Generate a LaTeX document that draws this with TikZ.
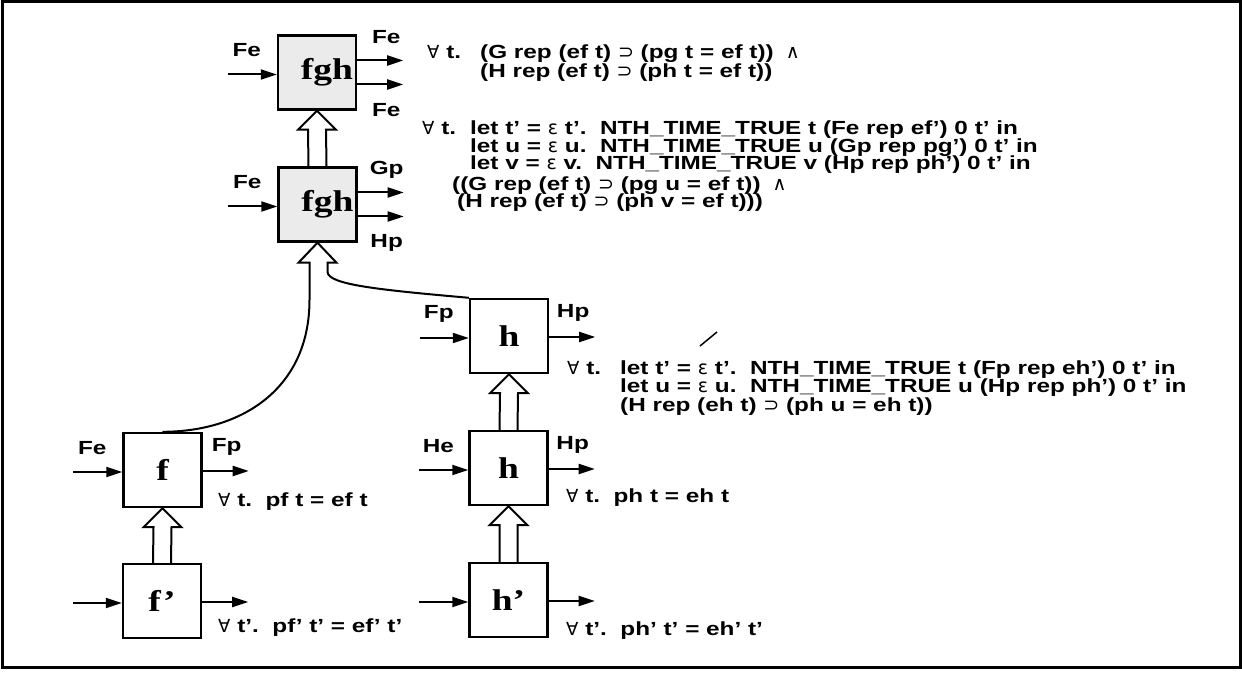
\documentclass[tikz,border=0pt]{standalone}
\usepackage{fontspec}
\newfontfamily\formfont[FakeStretch=1.28]{Liberation Sans}
\newfontfamily\blockfont[FakeStretch=1.25]{Liberation Serif}
\newfontfamily\symfont{DejaVu Sans}
\newcommand{\forallsym}{{\symfont\mdseries\fontsize{18}{18}\selectfont ∀}}
\newcommand{\impsym}{{\symfont\mdseries ⊃}}
\newcommand{\andsym}{{\symfont\mdseries ∧}}
\newcommand{\epssym}{{\symfont\mdseries ε}}
\usetikzlibrary{arrows.meta,calc}
\tikzset{
  blk/.style={draw,line width=2.4pt,minimum width=78pt,minimum height=74pt,inner sep=0pt,
    font=\blockfont\bfseries\fontsize{30}{30}\selectfont},
  sig/.style={line width=2pt,-{Triangle[length=16pt,width=10pt]}},
  hollow/.style={line width=2pt,line join=miter},
  lbl/.style={inner sep=0pt},
  formula/.style={anchor=base west,inner sep=0pt,text height=13pt,text depth=3.5pt}
}
\newcommand{\inport}[2]{%
  \coordinate (#1-src) at ($(#1.west)+(-49,-2)$);
  \draw[sig] (#1-src) -- (#1.west |- #1-src);
  \if\relax\detokenize{#2}\relax\else
    \node[lbl] (#1-inlbl) at ($(#1.west)+(-30,22)$) {#2};
  \fi
}
\newcommand{\outport}[2]{%
  \coordinate (#1-snk) at ($(#1.east)+(46,-1)$);
  \draw[sig] (#1.east |- #1-snk) -- (#1-snk);
  \if\relax\detokenize{#2}\relax\else
    \node[lbl] (#1-outlbl) at ($(#1.east)+(24,23)$) {#2};
  \fi
}
\newcommand{\twoports}[3]{%
  \coordinate (#1-snka) at ($(#1.east)+(46,12)$);
  \coordinate (#1-snkb) at ($(#1.east)+(46,-12)$);
  \draw[sig] (#1.east |- #1-snka) -- (#1-snka);
  \draw[sig] (#1.east |- #1-snkb) -- (#1-snkb);
  \node[lbl] (#1-outa) at ($(#1.east)+(29,35)$) {#2};
  \node[lbl] (#1-outb) at ($(#1.east)+(29,-38)$) {#3};
}
% #1 lower block, #2 upper block
\newcommand{\refine}[2]{%
  \draw[hollow] ($(#1.north)+(-9,0)$) -- ($(#2.south)+(-9,-19)$) -- ($(#2.south)+(-19,-19)$)
    -- (#2.south) -- ($(#2.south)+(19,-19)$) -- ($(#2.south)+(9,-19)$) -- ($(#1.north)+(9,0)$);
}

\begin{document}
\begin{tikzpicture}[x=1pt,y=1pt,font=\formfont\bfseries\fontsize{19}{19}\selectfont]
\path[use as bounding box] (0,0) rectangle (1242,672);
\draw[line width=3pt] (2,670) rectangle (1240,5);

% blocks
\node[blk,fill=black!8] (fghA) at (317,599.5) {\hspace*{20pt}fgh};
\node[blk,fill=black!8] (fghB) at (317.5,467.5) {\hspace*{20pt}fgh};
\node[blk] (hA) at (509,336) {h};
\node[blk] (hB) at (508.5,204) {h};
\node[blk] (hC) at (508.5,72) {h’};
\node[blk] (fA) at (162.5,202) {f};
\node[blk] (fB) at (162,71) {f’};

\inport{fghA}{Fe}
\twoports{fghA}{Fe}{Fe}
\inport{fghB}{Fe}
\twoports{fghB}{Gp}{Hp}
\inport{hA}{Fp}
\outport{hA}{Hp}
\inport{hB}{He}
\outport{hB}{Hp}
\inport{hC}{}
\outport{hC}{}
\inport{fA}{Fe}
\outport{fA}{Fp}
\inport{fB}{}
\outport{fB}{}

\refine{fghB}{fghA}
\refine{hB}{hA}
\refine{hC}{hB}
\refine{fB}{fA}

% split arrow into the lower fgh
\draw[hollow] (fA.north) .. controls ($(fA.north)+(78,0)$) and ($(fghB.south)+(-8,-147)$) .. ($(fghB.south)+(-8,-57)$)
  -- ($(fghB.south)+(-8,-20)$) -- ($(fghB.south)+(-19,-20)$) -- (fghB.south)
  -- ($(fghB.south)+(19,-20)$) -- ($(fghB.south)+(10,-20)$) -- ($(fghB.south)+(10,-29)$)
  .. controls ($(fghB.south)+(10,-42)$) and ($(hA.north west)+(-90,8)$) .. (hA.north west);

% formulas
\node[formula] (fa1) at (427,613) {\forallsym\ t.};
\node[formula] (fa2) at (480,613) {(G rep (ef t) \impsym\ (pg t = ef t))\hspace{12pt}\andsym};
\node[formula] (fa3) at (480,594) {(H rep (ef t) \impsym\ (ph t = ef t))};

\node[formula] (fb1) at (422,537) {\forallsym\ t.};
\node[formula] (fb2) at (470,537) {let t’ = \epssym\ t’.\ \ NTH\_TIME\_TRUE t (Fe rep ef’) 0 t’ in};
\node[formula] (fb3) at (470,519.5) {let u = \epssym\ u.\ \ NTH\_TIME\_TRUE u (Gp rep pg’) 0 t’ in};
\node[formula] (fb4) at (470,502) {let v = \epssym\ v.\ \ NTH\_TIME\_TRUE v (Hp rep ph’) 0 t’ in};
\node[formula] (fb5) at (452,481.5) {((G rep (ef t) \impsym\ (pg u = ef t))\hspace{12pt}\andsym};
\node[formula] (fb6) at (457,464) {(H rep (ef t) \impsym\ (ph v = ef t)))};

\draw[line width=1.5pt] (700,326) -- (717,340);
\node[formula] (fc1) at (567,297) {\forallsym\ t.};
\node[formula] (fc2) at (620,297) {let t’ = \epssym\ t’.\ \ NTH\_TIME\_TRUE t (Fp rep eh’) 0 t’ in};
\node[formula] (fc3) at (620,279) {let u = \epssym\ u.\ \ NTH\_TIME\_TRUE u (Hp rep ph’) 0 t’ in};
\node[formula] (fc4) at (620,260) {(H rep (eh t) \impsym\ (ph u = eh t))};

\node[formula] (fd1) at (566,169) {\forallsym\ t.\ \ ph t = eh t};
\node[formula] (fd2) at (566,37) {\forallsym\ t’.\ \ ph’ t’ = eh’ t’};
\node[formula] (fe1) at (218,165) {\forallsym\ t.\ \ pf t = ef t};
\node[formula] (fe2) at (218,39) {\forallsym\ t’.\ \ pf’ t’ = ef’ t’};
\end{tikzpicture}
\end{document}
